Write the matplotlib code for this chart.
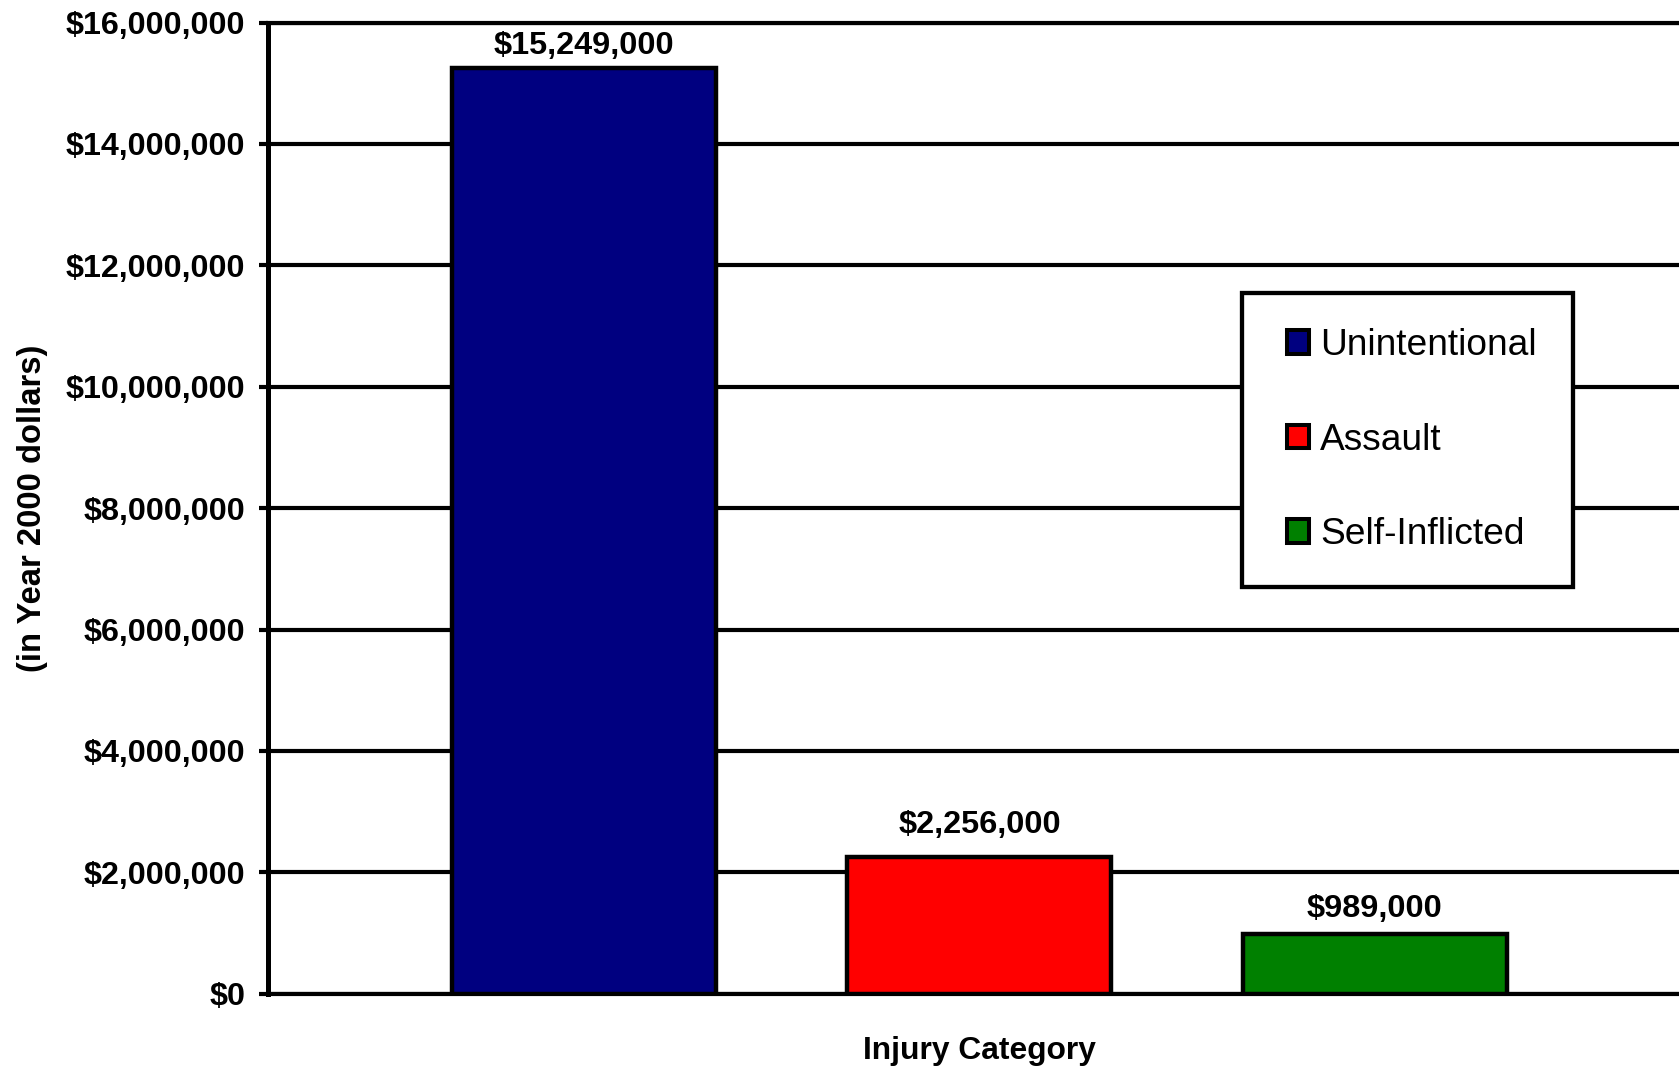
import matplotlib
matplotlib.use("Agg")
import matplotlib.pyplot as plt
from matplotlib.ticker import FuncFormatter, MultipleLocator
from matplotlib.patches import Patch, Rectangle

categories = ["Unintentional", "Assault", "Self-Inflicted"]
values = [15249000, 2256000, 989000]
colors = ["#000080", "#FF0000", "#008000"]
y_label = "(in Year 2000 dollars)"
x_label = "Injury Category"

# vertical gap (points) between each bar top and its value label
label_gaps = [5, 12, 7]

plt.rcParams['font.family'] = ['Liberation Sans', 'DejaVu Sans']

W, H = 1679, 1066
fig = plt.figure(figsize=(W / 100, H / 100), dpi=100)
ax = fig.add_axes([268 / W, 1 - 993.7 / H, 1 - 268 / W, (993.7 - 22.5) / H])

x = list(range(len(categories)))
bars = ax.bar(x, values, width=0.668, color=colors, edgecolor="black",
              linewidth=3.2, zorder=3)

ax.set_xlim(-0.8, 2.77)
ax.set_ylim(0, 16000000)
ax.yaxis.set_major_locator(MultipleLocator(2000000))
ax.yaxis.set_major_formatter(FuncFormatter(lambda v, p: "${:,.0f}".format(v)))
ax.set_xticks([])

ax.grid(axis="y", color="black", linewidth=3.0, zorder=0)
ax.set_axisbelow(True)
ax.spines["right"].set_visible(False)
ax.spines["left"].set_linewidth(3.6)
ax.spines["top"].set_linewidth(3.0)
ax.spines["bottom"].set_linewidth(3.0)
ax.tick_params(axis="y", length=6.5, width=3.0, pad=10, labelsize=23.2)
for lab in ax.get_yticklabels():
    lab.set_fontweight("bold")

for b, v, g in zip(bars, values, label_gaps):
    ax.annotate("${:,.0f}".format(v), xy=(b.get_x() + b.get_width() / 2, v),
                xytext=(0, g), textcoords="offset points", ha="center",
                va="bottom", fontsize=23.4, fontweight="bold", zorder=5)

fig.text(33 / W, 1 - 508 / H, y_label, rotation=90, ha="center", va="center",
         fontsize=23.6, fontweight="bold")
fig.text(979 / W, 1 - 1051 / H, x_label, ha="center", va="center",
         fontsize=22.9, fontweight="bold")

# legend frame
fx0, fy0, fx1, fy1 = 1242, 293.4, 1573, 586.8
frame = Rectangle((fx0 / W, 1 - fy1 / H), (fx1 - fx0) / W, (fy1 - fy0) / H,
                  transform=fig.transFigure, facecolor="white",
                  edgecolor="black", linewidth=3.1, zorder=9)
fig.patches.append(frame)

handles = [Patch(facecolor=c, edgecolor="black", linewidth=2.9) for c in colors]
leg = fig.legend(handles, categories, loc="center left",
                 bbox_to_anchor=(1287 / W, 1 - 440 / H),
                 fontsize=26.7, frameon=False,
                 handlelength=0.6, handleheight=0.6,
                 handletextpad=0.3, labelspacing=1.6, borderpad=0,
                 borderaxespad=0)
leg.set_zorder(10)

fig.savefig("out.png", dpi=100)
